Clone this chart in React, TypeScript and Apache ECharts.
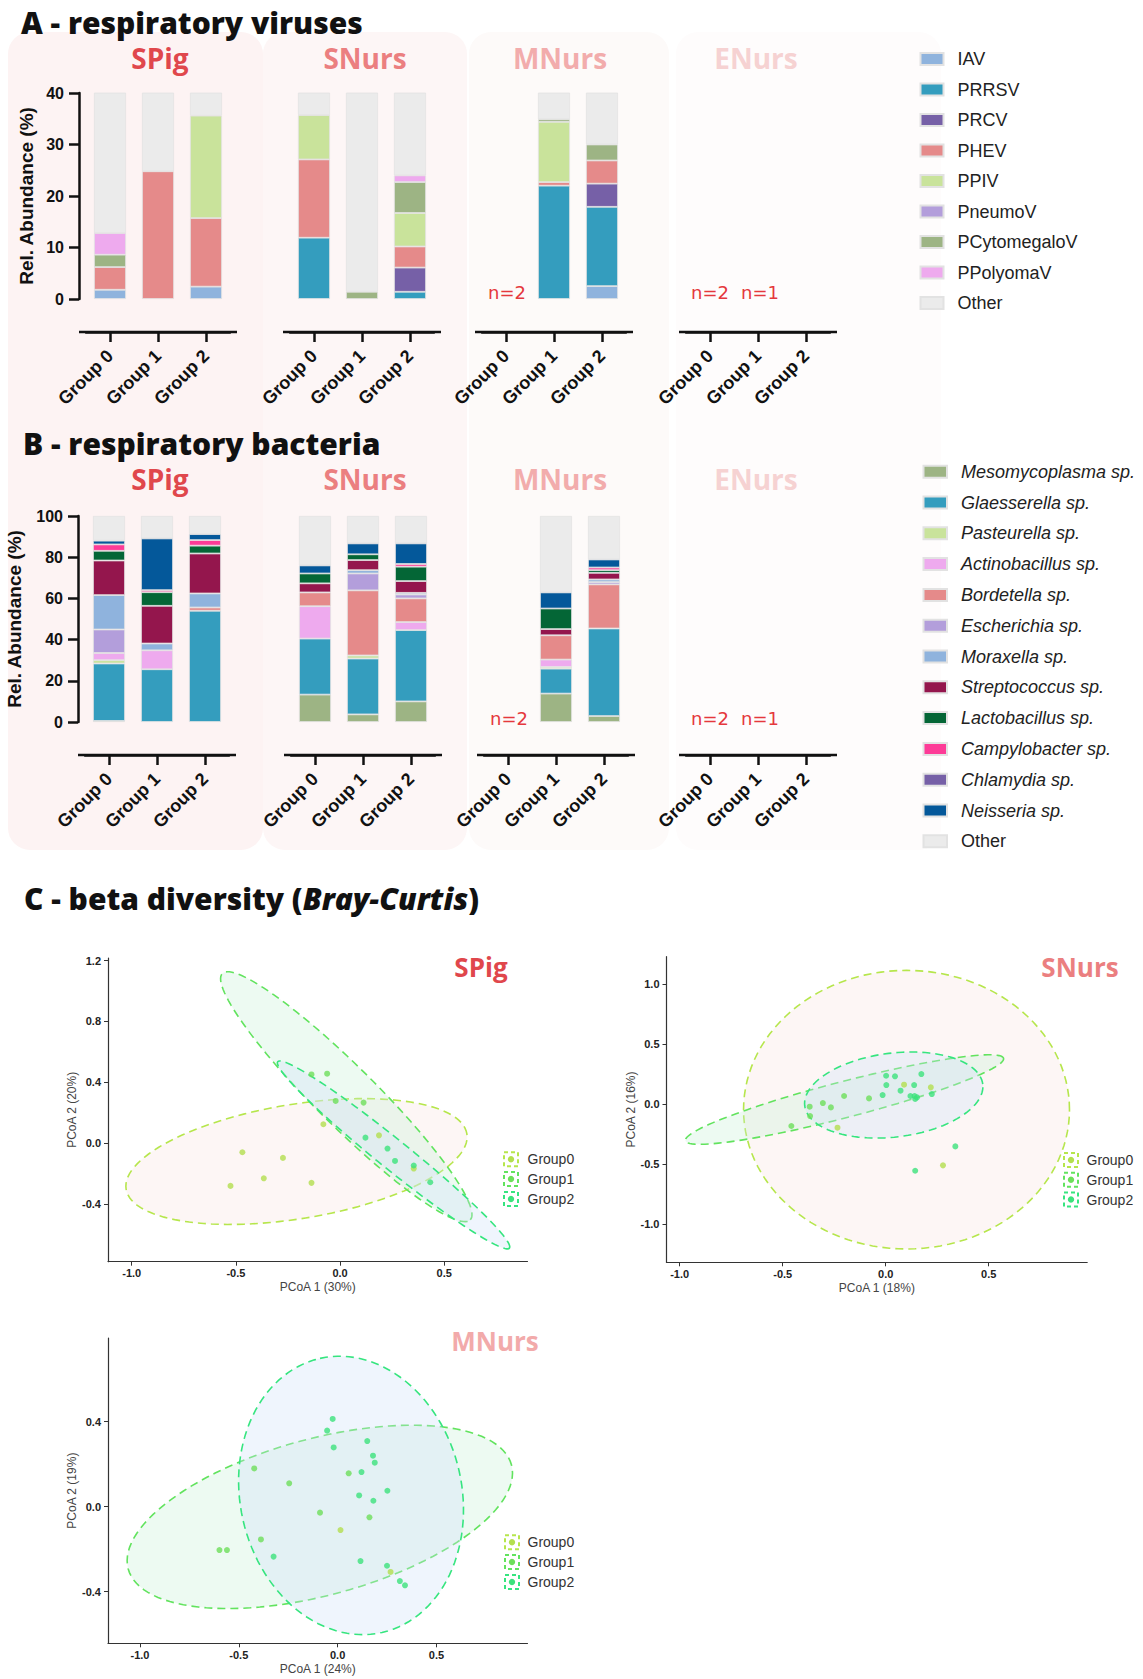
import React, { useEffect, useRef } from 'react';
import * as echarts from 'echarts';

// ---------- categories / names ----------
const groupLabels = ['Group 0', 'Group 1', 'Group 2'];
const cohortNames = ['SPig', 'SNurs', 'MNurs', 'ENurs'];
const cohortColors = ['#e0474c', '#eb7f80', '#f2acac', '#f6d2d2'];

const virusNames = ['IAV', 'PRRSV', 'PRCV', 'PHEV', 'PPIV', 'PneumoV', 'PCytomegaloV', 'PPolyomaV', 'Other'];
const virusColors = ['#8fb3dd', '#349dbe', '#7660a7', '#e58a8a', '#c9e39b', '#b39edb', '#9db484', '#eeaaee', '#ebebeb'];

const bacteriaNames = [
  'Mesomycoplasma sp.', 'Glaesserella sp.', 'Pasteurella sp.', 'Actinobacillus sp.', 'Bordetella sp.',
  'Escherichia sp.', 'Moraxella sp.', 'Streptococcus sp.', 'Lactobacillus sp.', 'Campylobacter sp.',
  'Chlamydia sp.', 'Neisseria sp.', 'Other',
];
const bacteriaColors = ['#9db484', '#349dbe', '#c9e39b', '#eeaaee', '#e58a8a', '#b39edb', '#8fb3dd', '#94164d', '#046636', '#fd3b97', '#7660a7', '#04589a', '#ebebeb'];

// ---------- A: viruses, rel. abundance (%) per group (rows) in virusNames order ----------
const virusSPig = [
  [1.8, 0, 0, 4.4, 0, 0, 2.4, 4.2, 87.2],
  [0, 0, 0, 24.8, 0, 0, 0, 0, 75.2],
  [2.4, 0, 0, 13.3, 19.9, 0, 0, 0, 64.4],
];
const virusSNurs = [
  [0, 11.9, 0, 15.2, 8.6, 0, 0, 0, 64.3],
  [0, 0, 0, 0, 0, 0, 1.4, 0, 98.6],
  [0, 1.4, 4.7, 4.1, 6.5, 0, 6.0, 1.3, 76.0],
];
const virusMNurs = [
  [0, 0, 0, 0, 0, 0, 0, 0, 0],
  [0, 22.0, 0, 0.7, 11.7, 0, 0.5, 0, 65.1],
  [2.5, 15.4, 4.5, 4.5, 0, 0, 3.1, 0, 70.0],
];
const virusENurs = [
  [0, 0, 0, 0, 0, 0, 0, 0, 0],
  [0, 0, 0, 0, 0, 0, 0, 0, 0],
  [0, 0, 0, 0, 0, 0, 0, 0, 0],
];

// ---------- B: bacteria ----------
const bacteriaSPig = [
  [0.5, 27.9, 1.6, 3.5, 0, 11.4, 16.7, 16.8, 4.7, 3.1, 0, 1.8, 12.0],
  [0, 25.6, 0, 9.2, 0, 0, 3.3, 18.3, 6.6, 1.0, 0, 25.1, 10.9],
  [0, 54.0, 0, 0, 1.6, 0, 6.8, 19.4, 3.8, 2.7, 0, 2.9, 8.8],
];
const bacteriaSNurs = [
  [13.3, 27.2, 0, 15.7, 6.7, 0, 0, 4.4, 4.8, 0, 0, 3.9, 24.0],
  [3.7, 27.1, 1.5, 0, 31.6, 8.2, 1.6, 4.9, 2.8, 0, 0, 5.3, 13.3],
  [10.0, 34.6, 0, 3.9, 11.5, 1.9, 0.8, 5.7, 7.0, 1.3, 0, 10.0, 13.3],
];
const bacteriaMNurs = [
  [0, 0, 0, 0, 0, 0, 0, 0, 0, 0, 0, 0, 0],
  [13.8, 12.1, 0.8, 3.6, 11.8, 0, 0, 3.0, 10.0, 0, 0, 7.8, 37.1],
  [2.9, 42.5, 0, 0, 21.4, 1.1, 1.3, 3.2, 1.3, 1.3, 0, 3.9, 21.1],
];
const bacteriaENurs = [
  [0, 0, 0, 0, 0, 0, 0, 0, 0, 0, 0, 0, 0],
  [0, 0, 0, 0, 0, 0, 0, 0, 0, 0, 0, 0, 0],
  [0, 0, 0, 0, 0, 0, 0, 0, 0, 0, 0, 0, 0],
];

const virusTicks = [0, 10, 20, 30, 40];
const bacteriaTicks = [0, 20, 40, 60, 80, 100];

// ---------- C: PCoA scatter (PCoA1, PCoA2) ----------
const pcoaGroups = ['Group0', 'Group1', 'Group2'];
const pcoaColors = ['#b3df4f', '#6ddf5a', '#3ce27c'];
const ellipseStroke = ['#b6e64c', '#62e35e', '#36e57f'];
const ellipseFill = ['rgba(248,215,210,0.22)', 'rgba(200,240,215,0.32)', 'rgba(205,225,250,0.32)'];

const spigG0 = [[-0.526, -0.28], [-0.469, -0.059], [-0.366, -0.23], [-0.274, -0.096], [-0.137, -0.26], [-0.08, 0.125], [0.187, 0.052], [0.354, -0.166]];
const spigG1 = [[-0.137, 0.452], [-0.062, 0.457], [-0.021, 0.278], [0.113, 0.267]];
const spigG2 = [[0.122, 0.037], [0.228, -0.035], [0.264, -0.116], [0.354, -0.146], [0.433, -0.256]];

const snursG0 = [[0.089, 0.161], [0.219, 0.139], [-0.234, -0.197], [0.278, -0.511]];
const snursG1 = [[-0.458, -0.183], [-0.369, -0.022], [-0.367, -0.1], [-0.305, 0.008], [-0.266, -0.028], [-0.202, 0.067], [-0.081, 0.047]];
const snursG2 = [[-0.015, 0.075], [0.002, 0.236], [0.003, 0.158], [0.045, 0.231], [0.072, 0.111], [0.12, 0.067], [0.138, 0.158], [0.14, 0.067], [0.143, 0.042], [0.152, 0.056], [0.173, 0.25], [0.224, 0.083], [0.338, -0.353], [0.143, -0.556]];

const mnursG0 = [[0.0145, -0.11], [0.268, -0.307]];
const mnursG1 = [[-0.598, -0.204], [-0.56, -0.204], [0.056, 0.157], [-0.388, -0.154], [-0.089, -0.028], [0.161, -0.05], [-0.422, 0.18], [-0.245, 0.11]];
const mnursG2 = [[-0.025, 0.413], [-0.053, 0.358], [-0.02, 0.279], [0.15, 0.309], [0.179, 0.24], [0.188, 0.207], [0.121, 0.163], [0.109, 0.053], [0.252, 0.075], [0.181, 0.028], [-0.324, -0.235], [0.116, -0.256], [0.25, -0.278], [0.315, -0.35], [0.341, -0.37]];

// ellipses: [centre x, centre y, major-end x, major-end y, minor-end x, minor-end y]
const spigEllipses = [
  [-0.209, -0.12, 0.609, 0.062, -0.253, 0.251],
  [0.03, 0.306, 0.625, -0.503, 0.131, 0.445],
  [0.257, -0.0765, 0.813, -0.689, 0.302, 0.0002],
];
const snursEllipses = [
  [0.101, -0.047, 0.892, -0.047, 0.101, 1.114],
  [-0.2, 0.0375, 0.572, 0.381, -0.222, 0.183],
  [0.039, 0.075, 0.471, 0.166, 0.0135, 0.422],
];
const mnursEllipses = [
  null,
  [-0.09, -0.048, 0.88, 0.196, -0.19, 0.308],
  [0.068, 0.053, -0.089, 0.698, 0.615, 0.168],
];

const pcoaXTicks = [-1.0, -0.5, 0.0, 0.5];
const spigYTicks = [-0.4, 0.0, 0.4, 0.8, 1.2];
const snursYTicks = [-1.0, -0.5, 0.0, 0.5, 1.0];
const mnursYTicks = [-0.4, 0.0, 0.4];

const ARIAL = "'Liberation Sans', Arial, sans-serif";
const HEAD = "'Open Sans', 'Noto Sans', sans-serif";

function buildOption() {
  const grid: any[] = [];
  const xAxis: any[] = [];
  const yAxis: any[] = [];
  const series: any[] = [];
  const graphic: any[] = [];

  // panel backgrounds
  const panels = [
    { x: 8, w: 255, fill: '#fdf3f3' },
    { x: 263, w: 204, fill: '#fdf6f6' },
    { x: 469, w: 200, fill: '#fdfaf9' },
    { x: 676, w: 265, fill: '#fefcfc' },
  ];
  panels.forEach((p) => {
    graphic.push({ type: 'rect', z: -10, silent: true, shape: { x: p.x, y: 32, width: p.w, height: 818, r: 22 }, style: { fill: p.fill } });
  });

  const rows = [
    { top: 93, lefts: [86, 290, 482, 686], max: 40, ticks: virusTicks, names: virusNames, colors: virusColors, data: [virusSPig, virusSNurs, virusMNurs, virusENurs], nameGap: 43, titleY: 58, nY: 292 },
    { top: 516, lefts: [85, 291, 484, 686], max: 100, ticks: bacteriaTicks, names: bacteriaNames, colors: bacteriaColors, data: [bacteriaSPig, bacteriaSNurs, bacteriaMNurs, bacteriaENurs], nameGap: 54, titleY: 479, nY: 718 },
  ];
  const titleCenters = [160, 365, 560, 756];

  rows.forEach((row) => {
    row.lefts.forEach((left, c) => {
      const gi = grid.length;
      grid.push({ left, top: row.top, width: 144, height: 206 });
      xAxis.push({
        gridIndex: gi, type: 'category', data: groupLabels, offset: 33,
        axisLine: { show: true, onZero: false, lineStyle: { color: '#111', width: 2.5 } },
        axisTick: { show: true, alignWithLabel: true, length: 10, lineStyle: { color: '#111', width: 2.5 } },
        axisLabel: { rotate: 45, margin: 21, fontFamily: ARIAL, fontWeight: 'bold', fontSize: 18, color: '#111' },
        splitLine: { show: false },
      });
      yAxis.push({
        gridIndex: gi, type: 'value', min: 0, max: row.max, show: c === 0, offset: 7,
        name: 'Rel. Abundance (%)', nameLocation: 'middle', nameGap: row.nameGap,
        nameTextStyle: { fontFamily: ARIAL, fontWeight: 'bold', fontSize: 19, color: '#111' },
        axisLine: { show: true, onZero: false, lineStyle: { color: '#111', width: 2.5 } },
        axisTick: { show: true, customValues: row.ticks, length: 10, lineStyle: { color: '#111', width: 2.5 } },
        axisLabel: { customValues: row.ticks, margin: 15, fontFamily: ARIAL, fontWeight: 'bold', fontSize: 16, color: '#111' },
        splitLine: { show: false },
      });
      // offset x axis baseline (GraphPad style), extends slightly beyond the bar area
      const axisY = row.top + 206 + 33;
      graphic.push({ type: 'line', z: 5, silent: true, shape: { x1: left - 7, y1: axisY, x2: left + 151, y2: axisY }, style: { stroke: '#111', lineWidth: 2.5 } });

      const empty = row.data[c].every((g) => g.every((v) => v === 0));
      if (!empty) {
        row.names.forEach((name, si) => {
          const vals = row.data[c].map((g) => g[si]);
          series.push({
            name, type: 'bar', xAxisIndex: gi, yAxisIndex: gi, stack: 'st' + gi, barWidth: 32, silent: true,
            itemStyle: { color: row.colors[si], borderColor: '#e2e2e2', borderWidth: 0.8 },
            data: vals.map((v) => (v === 0 ? '-' : v)),
          });
        });
      }
      graphic.push({
        type: 'text', z: 50, silent: true,
        style: { x: titleCenters[c], y: row.titleY, text: cohortNames[c], fontFamily: HEAD, fontWeight: 'bold', fontSize: 28, lineHeight: 28, fill: cohortColors[c], align: 'center', verticalAlign: 'middle', textAlign: 'center', textVerticalAlign: 'middle' },
      });
    });
    // n= annotations
    const nTexts = [
      { x: row.lefts[2] + 25, t: 'n=2' },
      { x: row.lefts[3] + 24, t: 'n=2' },
      { x: row.lefts[3] + 74, t: 'n=1' },
    ];
    nTexts.forEach((n) => {
      graphic.push({
        type: 'text', z: 50, silent: true,
        style: { x: n.x, y: row.nY, text: n.t, fontFamily: "'DejaVu Sans', sans-serif", fontSize: 18, fill: '#e5383d', align: 'center', verticalAlign: 'middle', textAlign: 'center', textVerticalAlign: 'middle' },
      });
    });
  });

  // headings
  const headings = [
    { x: 21, y: 22, text: 'A - respiratory viruses' },
    { x: 23, y: 443, text: 'B - respiratory bacteria' },
  ];
  headings.forEach((h) => {
    graphic.push({
      type: 'text', z: 60, silent: true,
      style: { x: h.x, y: h.y, text: h.text, fontFamily: HEAD, fontWeight: 800, fontSize: 30, lineHeight: 30, fill: '#111', align: 'left', verticalAlign: 'middle', textAlign: 'left', textVerticalAlign: 'middle' },
    });
  });
  graphic.push({
    type: 'text', z: 60, silent: true,
    style: {
      x: 24, y: 898, text: 'C - beta diversity ({i|Bray-Curtis})', fontFamily: HEAD, fontWeight: 800, fontSize: 30, lineHeight: 30, fill: '#111',
      align: 'left', verticalAlign: 'middle', textAlign: 'left', textVerticalAlign: 'middle',
      rich: { i: { fontFamily: HEAD, fontWeight: 800, fontStyle: 'italic', fontSize: 30, lineHeight: 30, fill: '#111' } },
    },
  });

  // ---------- scatter panels ----------
  const scatterPanels = [
    { g: { left: 108, top: 958, width: 419.5, height: 303.7 }, x: [-1.114, 0.9], y: [-0.778, 1.217], yTicks: spigYTicks, xName: 'PCoA 1 (30%)', yName: 'PCoA 2 (20%)', pts: [spigG0, spigG1, spigG2], ell: spigEllipses, title: 'SPig', tColor: cohortColors[0], tPos: [481, 967], leg: [511, 527.5, 1159.3] },
    { g: { left: 666.5, top: 956.7, width: 420.7, height: 305.6 }, x: [-1.064, 0.978], y: [-1.319, 1.228], yTicks: snursYTicks, xName: 'PCoA 1 (18%)', yName: 'PCoA 2 (16%)', pts: [snursG0, snursG1, snursG2], ell: snursEllipses, title: 'SNurs', tColor: cohortColors[1], tPos: [1080, 967], leg: [1071, 1086.5, 1160] },
    { g: { left: 108, top: 1338, width: 419.5, height: 305.3 }, x: [-1.162, 0.961], y: [-0.643, 0.794], yTicks: mnursYTicks, xName: 'PCoA 1 (24%)', yName: 'PCoA 2 (19%)', pts: [mnursG0, mnursG1, mnursG2], ell: mnursEllipses, title: 'MNurs', tColor: '#f2aaaa', tPos: [495, 1341], leg: [512, 527.5, 1542.3] },
  ];

  scatterPanels.forEach((sp) => {
    const gi = grid.length;
    grid.push(sp.g);
    xAxis.push({
      gridIndex: gi, type: 'value', min: sp.x[0], max: sp.x[1],
      name: sp.xName, nameLocation: 'middle', nameGap: 19.5,
      nameTextStyle: { fontFamily: ARIAL, fontSize: 12, color: '#444' },
      axisLine: { show: true, onZero: false, lineStyle: { color: '#333', width: 1.2 } },
      axisTick: { show: true, customValues: pcoaXTicks, length: 4, lineStyle: { color: '#333' } },
      axisLabel: { customValues: pcoaXTicks, formatter: (v: number) => v.toFixed(1), margin: 6, fontFamily: ARIAL, fontWeight: 'bold', fontSize: 11, color: '#222' },
      splitLine: { show: false },
    });
    yAxis.push({
      gridIndex: gi, type: 'value', min: sp.y[0], max: sp.y[1],
      name: sp.yName, nameLocation: 'middle', nameGap: 28,
      nameTextStyle: { fontFamily: ARIAL, fontSize: 12, color: '#444' },
      axisLine: { show: true, onZero: false, lineStyle: { color: '#333', width: 1.2 } },
      axisTick: { show: true, customValues: sp.yTicks, length: 4, lineStyle: { color: '#333' } },
      axisLabel: { customValues: sp.yTicks, formatter: (v: number) => v.toFixed(1), margin: 7, fontFamily: ARIAL, fontWeight: 'bold', fontSize: 11, color: '#222' },
      splitLine: { show: false },
    });
    sp.ell.forEach((e, k) => {
      if (!e) return;
      series.push({
        type: 'custom', name: pcoaGroups[k] + ' ellipse', xAxisIndex: gi, yAxisIndex: gi, silent: true, z: 1,
        data: [e],
        renderItem: (params: any, api: any) => {
          const c = api.coord([api.value(0), api.value(1)]);
          const a = api.coord([api.value(2), api.value(3)]);
          const b = api.coord([api.value(4), api.value(5)]);
          const ux = a[0] - c[0], uy = a[1] - c[1], vx = b[0] - c[0], vy = b[1] - c[1];
          const points: number[][] = [];
          const N = 120;
          for (let i = 0; i < N; i++) {
            const t = (i / N) * Math.PI * 2;
            points.push([c[0] + ux * Math.cos(t) + vx * Math.sin(t), c[1] + uy * Math.cos(t) + vy * Math.sin(t)]);
          }
          return {
            type: 'polygon', shape: { points },
            style: { fill: ellipseFill[k], stroke: ellipseStroke[k], lineWidth: 1.6, lineDash: [8, 5] },
          };
        },
      });
    });
    sp.pts.forEach((pts, k) => {
      series.push({
        type: 'scatter', name: pcoaGroups[k], xAxisIndex: gi, yAxisIndex: gi, symbolSize: 6, silent: true, z: 5,
        itemStyle: { color: pcoaColors[k] }, data: pts,
      });
    });
    graphic.push({
      type: 'text', z: 50, silent: true,
      style: { x: sp.tPos[0], y: sp.tPos[1], text: sp.title, fontFamily: HEAD, fontWeight: 'bold', fontSize: 26, fill: sp.tColor, align: 'center', verticalAlign: 'middle', textAlign: 'center', textVerticalAlign: 'middle' },
    });
    pcoaGroups.forEach((gName, k) => {
      const cy = sp.leg[2] + k * 19.8;
      graphic.push({ type: 'rect', z: 50, silent: true, shape: { x: sp.leg[0] - 7, y: cy - 7, width: 14, height: 14 }, style: { fill: 'none', stroke: ellipseStroke[k], lineWidth: 2, lineDash: [4, 3] } });
      graphic.push({ type: 'circle', z: 51, silent: true, shape: { cx: sp.leg[0], cy, r: 3.2 }, style: { fill: pcoaColors[k] } });
      graphic.push({
        type: 'text', z: 51, silent: true,
        style: { x: sp.leg[1], y: cy, text: gName, fontFamily: ARIAL, fontSize: 14, fill: '#333', align: 'left', verticalAlign: 'middle', textAlign: 'left', textVerticalAlign: 'middle' },
      });
    });
  });

  const legend = [
    {
      data: virusNames, orient: 'vertical', left: 919.5, top: 50, padding: 0, itemWidth: 23, itemHeight: 12, itemGap: 12.5,
      icon: 'rect', selectedMode: false,
      textStyle: { fontFamily: ARIAL, fontSize: 18, color: '#222', lineHeight: 18, padding: [0, 0, 0, 9] },
    },
    {
      data: bacteriaNames.map((n) => ({ name: n, textStyle: { fontStyle: n === 'Other' ? 'normal' : 'italic' } })),
      orient: 'vertical', left: 922.5, top: 462.7, padding: 0, itemWidth: 23.5, itemHeight: 12, itemGap: 12.8,
      icon: 'rect', selectedMode: false,
      textStyle: { fontFamily: ARIAL, fontSize: 18, color: '#222', lineHeight: 18, padding: [0, 0, 0, 9] },
    },
  ];

  return { animation: false, backgroundColor: '#ffffff', grid, xAxis, yAxis, series, legend, graphic: { elements: graphic } };
}

export default function App() {
  const ref = useRef<HTMLDivElement>(null);
  useEffect(() => {
    if (!ref.current) return;
    const chart = echarts.init(ref.current, undefined, { renderer: 'svg' });
    chart.setOption(buildOption() as any);
    return () => chart.dispose();
  }, []);
  return <div ref={ref} style={{ position: 'absolute', left: 0, top: 0, width: 1143, height: 1679, background: '#fff' }} />;
}
